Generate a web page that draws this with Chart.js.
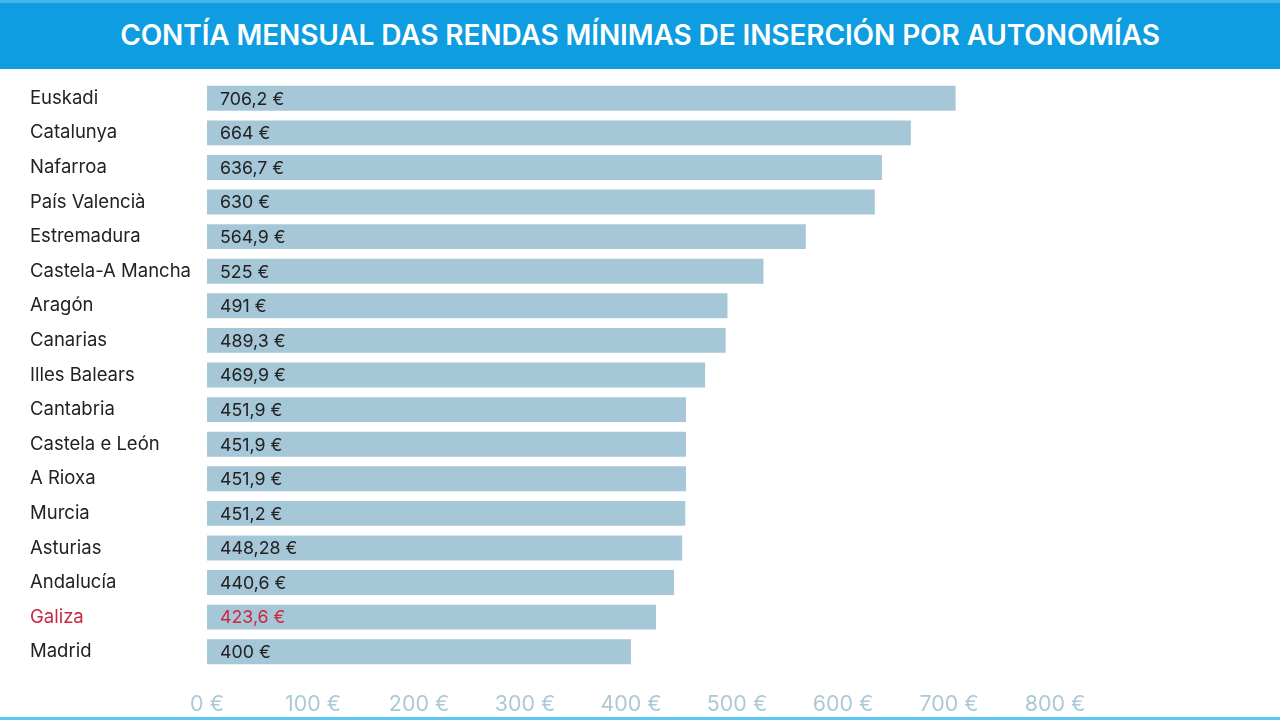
<!DOCTYPE html>
<html>
<head>
<meta charset="utf-8">
<script src="https://cdn.jsdelivr.net/npm/chart.js@4/dist/chart.umd.min.js"></script>
<style>
  body { margin: 0; background: #fff; }
  #wrap { position: relative; width: 1280px; height: 720px; overflow: hidden; }
  #header {
    position: absolute; left: 0; top: 0; width: 1280px; height: 69px;
    background: #0e9de1; border-top: 3px solid #45b6ec; box-sizing: border-box;
    color: #fff; font-family: Inter, Roboto, sans-serif; font-weight: 600;
    font-size: 28px; text-align: center; line-height: 64px; letter-spacing: -0.1px;
  }
  #footer { position: absolute; left: 0; bottom: 0; width: 1280px; height: 3px; background: #5cc6f2; }
  canvas { position: absolute; left: 0; top: 0; }
</style>
</head>
<body>
<div id="wrap">
  <canvas id="chart" width="1280" height="720"></canvas>
  <div id="header">CONTÍA MENSUAL DAS RENDAS MÍNIMAS DE INSERCIÓN POR AUTONOMÍAS</div>
  <div id="footer"></div>
</div>
<script>
// Data
const regions = ["Euskadi", "Catalunya", "Nafarroa", "País Valencià", "Estremadura", "Castela-A Mancha",
  "Aragón", "Canarias", "Illes Balears", "Cantabria", "Castela e León", "A Rioxa", "Murcia",
  "Asturias", "Andalucía", "Galiza", "Madrid"];
const amounts = [706.2, 664, 636.7, 630, 564.9, 525, 491, 489.3, 469.9, 451.9, 451.9, 451.9, 451.2,
  448.28, 440.6, 423.6, 400];
const highlight = "Galiza";
const xTicks = [0, 100, 200, 300, 400, 500, 600, 700, 800];

const textColor = "#222";
const redColor = "#c9283e";
const barColor = "#a6c7d7";

function euro(v) {
  return String(v).replace(".", ",") + " €";
}

// draw the amount inside each bar
const valueLabels = {
  id: "valueLabels",
  afterDatasetsDraw(chart) {
    const ctx = chart.ctx;
    const x0 = chart.scales.x.getPixelForValue(0);
    const meta = chart.getDatasetMeta(0);
    ctx.save();
    ctx.font = "17.8px Inter, Roboto, sans-serif";
    ctx.textBaseline = "middle";
    ctx.textAlign = "left";
    meta.data.forEach((bar, i) => {
      ctx.fillStyle = regions[i] === highlight ? redColor : textColor;
      ctx.fillText(euro(amounts[i]), x0 + 13, bar.y + 1);
    });
    ctx.restore();
  }
};

new Chart(document.getElementById("chart"), {
  type: "bar",
  data: {
    labels: regions,
    datasets: [{
      data: amounts,
      backgroundColor: barColor,
      borderWidth: 0,
      barPercentage: 0.72,
      categoryPercentage: 1
    }]
  },
  options: {
    indexAxis: "y",
    responsive: false,
    animation: false,
    layout: { padding: { top: 81, left: 30, right: 225, bottom: 0 } },
    plugins: {
      legend: { display: false },
      tooltip: { enabled: false },
      title: { display: false }
    },
    scales: {
      x: {
        min: 0, max: 800,
        afterBuildTicks: (scale) => { scale.ticks = xTicks.map(v => ({ value: v })); },
        afterFit: (scale) => { scale.height = 51; },
        grid: { display: false },
        border: { display: false },
        ticks: {
          color: "#adc8d6",
          font: { family: "Inter, Roboto, sans-serif", size: 21.4 },
          padding: 15,
          callback: (v) => v + " €"
        }
      },
      y: {
        grid: { display: false },
        border: { display: false },
        afterFit: (scale) => { scale.width = 177; },
        ticks: {
          crossAlign: "far",
          padding: 0,
          font: { family: "Inter, Roboto, sans-serif", size: 18.5 },
          color: (c) => regions[c.index] === highlight ? redColor : textColor
        }
      }
    }
  },
  plugins: [valueLabels]
});
</script>
</body>
</html>
